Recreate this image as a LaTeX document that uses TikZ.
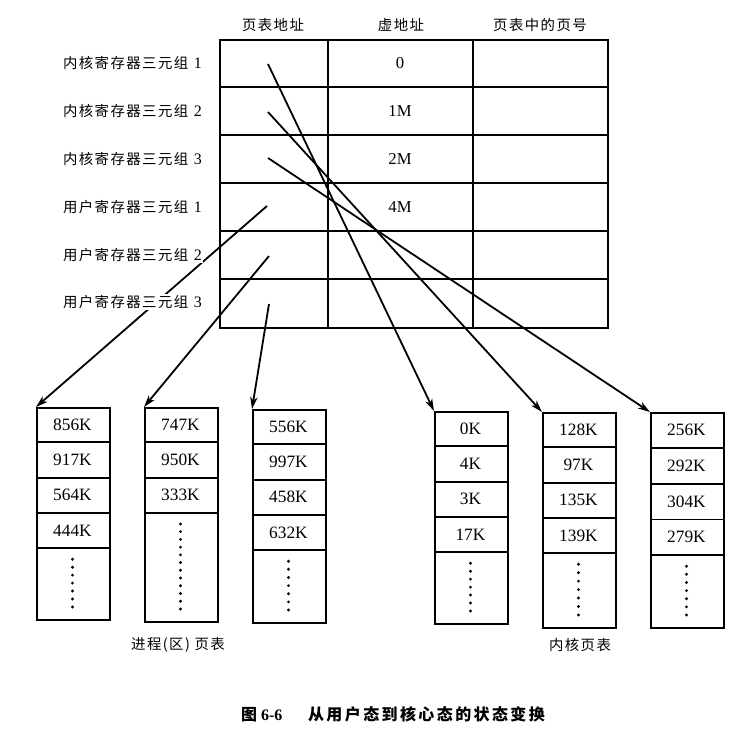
\documentclass[tikz,border=0pt]{standalone}
\usepackage{fontspec}
\setmainfont{Liberation Serif}
\newfontfamily\cjk[LetterSpace=10]{Noto Sans CJK SC}
\newfontfamily\cjkcap[LetterSpace=15]{Noto Sans CJK SC}
\usetikzlibrary{arrows.meta}
\tikzset{
  gridline/.style={line width=1.35pt},
  conn/.style={line width=1.35pt,-{Stealth[length=9pt,width=5.5pt,inset=2.5pt]}},
  hdr/.style={font=\cjk\fontsize{10.8}{12}\selectfont},
  lbl/.style={anchor=east,fill=white,inner sep=0.6pt,font=\fontsize{12}{14}\selectfont},
  topval/.style={font=\fontsize{12.5}{14}\selectfont},
  val/.style={font=\fontsize{13}{15}\selectfont},
  tabbox/.style={draw,line width=1.35pt,inner sep=0pt,anchor=north west,minimum width=54.75pt},
  dotmark/.style={fill=black,circle,inner sep=0pt,minimum size=2.4pt},
}
% #1 name, #2 left, #3 top, #4 bottom, #5 row height, #6 number of rows, #7 values, #8 number of dots
\newcommand\pagetab[8]{%
  \node[tabbox,minimum height={(#4-#3)*0.75pt}] (#1) at (#2,#3) {};
  \foreach \v [count=\i] in {#7} {
    \node[val] (#1-\i) at ({#2+36.5},{#3+(\i-0.5)*#5}) {\v};
    \draw[gridline] (#2,{#3+\i*#5}) -- ++(73,0);
  }
  \pgfmathsetmacro\dstart{#3+#6*#5+11}
  \pgfmathsetmacro\dstep{(#4-12-\dstart)/(#8-1)}
  \foreach \j in {1,...,#8} {
    \node[dotmark] at ({#2+36.5},{\dstart+(\j-1)*\dstep}) {};
  }
}
\newcommand\rowlbl[2]{{\cjk\fontsize{10.8}{12}\selectfont #1}\hspace{0.35em}#2}
\begin{document}
\begin{tikzpicture}[x=0.75pt,y=-0.75pt]
\useasboundingbox (0,0) rectangle (754,736);

% ---- top table ----
\node[draw,line width=1.35pt,inner sep=0pt,anchor=north west,minimum width={388*0.75pt},minimum height={288*0.75pt}] (tt) at (219,39) {};
\draw[gridline] (328,39) -- (328,327);
\draw[gridline] (473,39) -- (473,327);
\foreach \yy in {87,135,183,231,279} \draw[gridline] (219,\yy) -- (607,\yy);

\node[hdr] (h1) at (273,25) {页表地址};
\node[hdr] (h2) at (401,25) {虚地址};
\node[hdr] (h3) at (540,25) {页表中的页号};

\node[topval] (v1) at (400,63) {0};
\node[topval] (v2) at (400,111) {1M};
\node[topval] (v3) at (400,159) {2M};
\node[topval] (v4) at (400,207) {4M};

% start points in the page table address column
\coordinate (k1) at (268,64);
\coordinate (k2) at (268,112);
\coordinate (k3) at (268,158);
\coordinate (u1) at (267,206);
\coordinate (u2) at (269,256);
\coordinate (u3) at (269,304);

% ---- bottom tables ----
\pagetab{t1}{36}{407}{619}{35.3}{4}{856K,917K,564K,444K}{7}
\pagetab{t2}{144}{407}{621}{35.3}{3}{747K,950K,333K}{12}
\pagetab{t3}{252}{409}{622}{35.3}{4}{556K,997K,458K,632K}{7}
\pagetab{t4}{434}{411}{623}{35.3}{4}{0K,4K,3K,17K}{7}
\pagetab{t5}{542}{412}{627}{35.3}{4}{128K,97K,135K,139K}{7}
\pagetab{t6}{650}{412}{627}{35.8}{4}{256K,292K,304K,279K}{7}

% ---- connectors ----
\draw[conn] (k1) -- (t4.north west);
\draw[conn] (k2) -- (t5.north west);
\draw[conn] (k3) -- (t6.north west);
\draw[conn] (u1) -- (t1.north west);
\draw[conn] (u2) -- (t2.north west);
\draw[conn] (u3) -- (t3.north west);

% ---- row labels ----
\node[lbl] (l1) at (203,63) {\rowlbl{内核寄存器三元组}{1}};
\node[lbl] (l2) at (203,111) {\rowlbl{内核寄存器三元组}{2}};
\node[lbl] (l3) at (203,159) {\rowlbl{内核寄存器三元组}{3}};
\node[lbl] (l4) at (203,207) {\rowlbl{用户寄存器三元组}{1}};
\node[lbl] (l5) at (203,255) {\rowlbl{用户寄存器三元组}{2}};
\node[lbl] (l6) at (203,302) {\rowlbl{用户寄存器三元组}{3}};

% ---- group labels and caption ----
\node[hdr] (g1) at (178,645) {进程(区) 页表};
\node[hdr] (g2) at (580,645) {内核页表};
\node[font=\fontsize{12}{14}\selectfont\bfseries] (cap) at (393,714) {{\cjkcap 图} 6-6\hspace{1.6em}{\cjkcap 从用户态到核心态的状态变换}};
\end{tikzpicture}
\end{document}
